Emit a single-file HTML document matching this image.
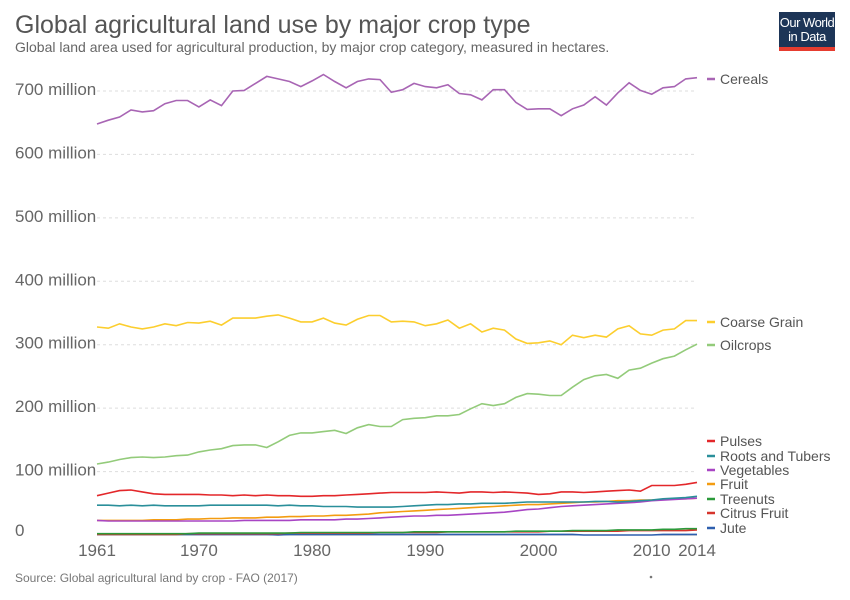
<!DOCTYPE html>
<html><head><meta charset="utf-8"><style>
body{margin:0;background:#fff;font-family:"Liberation Sans",sans-serif;}
#wrap{position:relative;width:850px;height:600px;overflow:hidden;}
</style></head><body>
<div id="wrap">
<svg id="chart" width="850" height="600" xmlns="http://www.w3.org/2000/svg">
<text x="15" y="33" font-size="25" fill="#555">Global agricultural land use by major crop type</text>
<text x="15" y="52" font-size="14" fill="#666">Global land area used for agricultural production, by major crop category, measured in hectares.</text>
<g>
<rect x="779" y="12" width="56" height="39" fill="#1d3557"/>
<rect x="779" y="47" width="56" height="4" fill="#e63c2f"/>
<text x="807" y="27" font-size="13" fill="#fff" text-anchor="middle" letter-spacing="-0.5">Our World</text>
<text x="807" y="41" font-size="13" fill="#fff" text-anchor="middle" letter-spacing="-0.5">in Data</text>
</g>
<g id="grid"></g><g id="series"></g><g id="legend"></g>
<text x="15" y="582" font-size="12" fill="#777">Source: Global agricultural land by crop - FAO (2017)</text>
<circle cx="651" cy="577" r="1.3" fill="#777"/>
</svg>
</div>
<script>
const years = Array.from({length:54},(_,i)=>1961+i);
const yTicks = [0,100,200,300,400,500,600,700];
const yTickLabels = ["0","100 million","200 million","300 million","400 million","500 million","600 million","700 million"];
const xTicks = [1961,1970,1980,1990,2000,2010,2014];
const cereals = [648,654,659,670,667,669,680,685,685,675,686,677,700,701,712,723,719,715,707,716,726,715,705,715,719,718,698,702,712,707,705,710,696,694,686,702,702,682,671,672,672,661,672,678,691,678,697,713,701,695,705,707,719,721];
const coarseGrain = [328,326,333,328,325,328,333,330,335,334,337,331,342,342,342,345,347,342,336,336,342,334,331,340,346,346,336,337,336,330,333,339,326,333,320,326,323,309,302,303,306,300,315,311,315,312,325,330,317,315,323,325,338,338];
const oilcrops = [112,115,119,122,123,122,123,125,126,131,134,136,141,142,142,138,147,157,161,161,163,165,160,169,174,171,171,182,184,185,188,188,190,199,207,204,207,217,223,222,220,220,233,245,251,253,247,260,263,271,278,282,292,301];
const pulses = [62,66,70,71,68,65,64,64,64,64,63,63,62,63,62,63,62,62,61,61,62,62,63,64,65,66,67,67,67,67,68,67,66,68,68,67,68,67,66,64,65,68,68,67,68,69,70,71,69,78,78,78,80,83];
const roots = [47,47,46,47,46,47,46,46,46,46,47,47,47,47,47,47,46,47,46,46,45,45,45,44,44,44,44,45,46,47,48,48,49,49,50,50,50,51,52,52,52,52,52,52,53,53,52,53,54,55,57,58,59,61];
const vegetables = [23,22,22,22,22,22,22,22,22,22,22,22,22,23,23,23,23,23,24,24,24,24,25,25,26,27,28,29,30,30,31,31,32,33,34,35,36,38,40,41,43,45,46,47,48,49,50,51,52,54,55,56,57,58];
const fruit = [23,23,23,23,23,24,24,24,25,25,26,26,27,27,27,28,28,29,29,30,30,31,31,32,33,35,36,37,38,39,40,41,42,43,44,45,46,47,48,48,49,50,51,52,52,53,54,54,55,55,56,57,57,58];
const treenuts = [2,2,2,2,2,2,2,2,2,3,3,3,3,3,3,3,3,3,4,4,4,4,4,4,4,4,4,4,5,5,5,5,5,5,5,5,5,6,6,6,6,6,7,7,7,7,8,8,8,8,9,9,10,10];
const citrus = [1,1,1,1,1,1,1,1,2,2,2,2,2,2,2,2,2,3,3,3,3,3,3,3,3,4,4,4,4,4,4,5,5,5,5,5,5,5,5,5,6,6,6,6,6,6,6,7,7,7,7,7,7,8];
const jute = [1,1,1,1,1,1,1,1,1,1,1,1,1,1,1,1,0,1,1,1,1,1,1,1,1,1,1,1,1,1,1,1,1,1,1,1,1,1,1,1,1,1,1,0,0,0,0,0,0,0,1,1,1,1];
const seriesNames = ["Cereals","Coarse Grain","Oilcrops","Pulses","Roots and Tubers","Vegetables","Fruit","Treenuts","Citrus Fruit","Jute"];
const seriesData = [cereals,coarseGrain,oilcrops,pulses,roots,vegetables,fruit,treenuts,citrus,jute];
const colors = ["#a865b4","#fcce2e","#93cb7a","#e3272a","#2a8f9a","#a845c4","#f39c11","#2b9a3a","#d6342c","#2e5fae"];
const legendY = [79,322,345,441,456,470,484,499,513,528];

const X0=97,X1=697,Y0=535,Y700=91;
const xS = y => X0 + (y-1961)*(X1-X0)/53;
const yS = v => Y0 - v*(Y0-Y700)/700;
const NS="http://www.w3.org/2000/svg";
function mk(tag,attrs,parent){const e=document.createElementNS(NS,tag);for(const k in attrs)e.setAttribute(k,attrs[k]);parent.appendChild(e);return e;}
const grid=document.getElementById('grid');
yTicks.forEach((t,i)=>{
  if(t>0){const l=mk('line',{x1:X0,x2:X1,y1:yS(t),y2:yS(t),stroke:'#ddd','stroke-dasharray':'3,3'},grid);
  
  }
  const tx=mk('text',{x:15,y:yS(t)+(t===0?1:4),'font-size':17,fill:'#666'},grid);
  tx.textContent=yTickLabels[i];
  
  
});
const ax=mk('line',{x1:X0,x2:X1,y1:Y0,y2:Y0,stroke:'#999'},grid);


xTicks.forEach(t=>{
  const tx=mk('text',{x:xS(t),y:556,'font-size':17,fill:'#666','text-anchor':'middle'},grid);
  tx.textContent=t;
  
  
});
const sg=document.getElementById('series'), lg=document.getElementById('legend');
for(let s=seriesData.length-1;s>=0;s--){
  const d=seriesData[s].map((v,i)=>(i?'L':'M')+xS(years[i]).toFixed(1)+','+yS(v).toFixed(1)).join('');
  const p=mk('path',{d:d,fill:'none',stroke:colors[s],'stroke-width':1.6},sg);
  
  
}
seriesNames.forEach((n,s)=>{
  const g=mk('g',{},lg);
  
  
  mk('line',{x1:707,x2:715,y1:legendY[s],y2:legendY[s],stroke:colors[s],'stroke-width':2.5},g);
  const t=mk('text',{x:720,y:legendY[s]+5,'font-size':14,fill:'#555'},g);
  t.textContent=n;
});
</script>
</body></html>
